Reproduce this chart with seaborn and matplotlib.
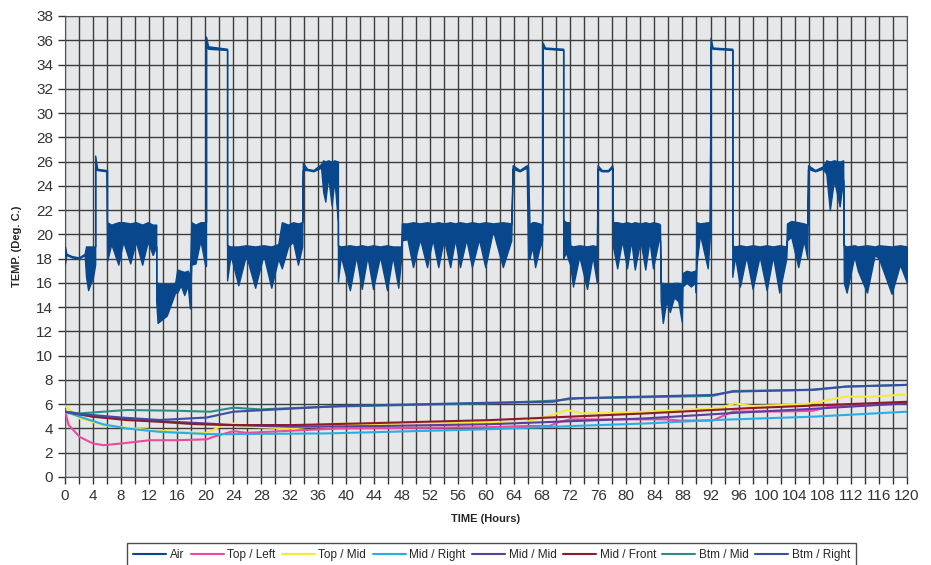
import numpy as np
import pandas as pd
import seaborn as sns
import matplotlib.pyplot as plt
from matplotlib.ticker import MultipleLocator

# Air temperature: logged trace shown as an envelope (upper / lower value) over time
air_t = [0.0, 0.2, 1.0, 2.0, 2.8, 3.0, 3.3, 4.0, 4.3,
         4.3, 4.6, 5.9, 6.0,
         6.0, 6.6, 7.6, 8.3, 9.3, 10.1, 11.0, 11.8, 12.5, 13.0,
         13.0, 13.2, 14.5, 15.7, 16.0, 16.5, 17.0, 17.5, 17.8,
         18.0, 18.6, 19.3, 20.0, 20.1,
         20.1, 20.4, 23.1,
         23.1, 23.6, 24.7, 25.8, 27.1, 28.3, 29.4, 30.4,
         30.9, 31.8, 32.5, 33.2, 33.8,
         33.9, 34.5, 35.4, 36.5, 36.8, 37.1, 37.5, 38.0, 38.4, 38.9,
         38.9, 39.3, 40.6, 41.5, 42.3, 43.1, 43.9, 44.9, 45.9, 46.7, 47.5, 47.9,
         48.0, 48.8, 49.6, 50.6, 51.6, 52.4, 53.2, 54.0, 54.9, 55.6, 56.3, 57.2,
         58.0, 59.0, 59.9, 61.0, 62.4, 63.6,
         63.8, 64.8, 65.8, 66.0,
         66.2, 66.6, 67.0, 67.6, 68.0,
         68.1, 68.4, 71.0,
         71.0, 71.4, 71.8, 72.0, 72.4, 73.3, 74.4, 75.2, 75.8,
         75.9, 76.5, 77.4, 78.0,
         78.1, 78.7, 79.4, 80.1, 80.7, 81.2, 82.0, 82.7, 83.3, 83.8, 84.6, 84.8,
         84.9, 85.2, 85.7, 86.2, 86.8, 87.4, 87.9,
         88.0, 88.6, 89.2, 89.8, 89.9,
         90.0, 90.5, 91.6, 91.9,
         92.0, 92.3, 95.1,
         95.1, 95.5, 96.2, 97.1, 98.0, 99.0, 100.0, 100.9, 101.8, 102.8,
         102.9, 103.5, 104.5, 105.3, 105.8,
         105.9, 106.9, 108.0, 108.5, 109.0, 109.6, 110.4, 110.9,
         111.0, 111.4, 112.5, 113.0, 114.3, 115.4, 116.0, 117.8, 119.0, 120.0]
air_hi = [19.0, 18.4, 18.2, 18.1, 18.4, 19.0, 19.0, 19.0, 19.0,
          26.5, 25.4, 25.3, 25.3,
          21.0, 20.8, 21.0, 21.0, 20.9, 21.0, 20.8, 21.0, 20.8, 20.8,
          16.1, 16.0, 15.9, 16.0, 17.1, 17.0, 16.9, 17.0, 16.6,
          21.0, 20.8, 21.0, 21.0, 21.0,
          36.3, 35.5, 35.3,
          19.1, 19.0, 19.0, 19.1, 19.0, 19.1, 19.0, 19.2,
          21.0, 20.8, 21.0, 20.9, 21.0,
          25.9, 25.4, 25.3, 25.8, 26.1, 26.0, 26.1, 26.0, 26.1, 26.0,
          19.1, 19.0, 19.1, 19.0, 19.1, 19.0, 19.1, 19.0, 19.1, 19.0, 19.0, 19.0,
          20.9, 20.9, 21.0, 20.9, 21.0, 20.9, 21.0, 20.9, 21.0, 20.9, 21.0, 20.9,
          21.0, 20.9, 21.0, 20.9, 21.0, 20.9,
          25.7, 25.3, 25.7, 25.6,
          20.8, 21.0, 21.0, 20.9, 20.8,
          35.8, 35.4, 35.3,
          21.2, 21.0, 21.0, 19.1, 19.0, 19.1, 19.0, 19.1, 19.0,
          25.7, 25.3, 25.3, 25.7,
          21.0, 21.0, 20.9, 21.0, 20.9, 21.0, 20.9, 21.0, 20.9, 21.0, 20.9, 20.8,
          16.0, 16.0, 15.9, 15.9, 16.0, 16.0, 15.8,
          16.8, 17.0, 16.9, 17.0, 16.5,
          21.0, 20.9, 21.0, 20.9,
          36.2, 35.4, 35.3,
          19.1, 19.0, 19.1, 19.0, 19.1, 19.0, 19.1, 19.0, 19.1, 19.0,
          20.9, 21.1, 21.0, 20.9, 20.8,
          25.7, 25.3, 25.6, 26.1, 26.0, 26.1, 26.0, 26.1,
          19.1, 19.0, 19.1, 19.0, 19.1, 19.0, 19.1, 19.0, 19.1, 19.0]
air_lo = [17.6, 18.3, 18.1, 18.0, 18.3, 16.5, 15.4, 16.5, 17.5,
          25.5, 25.3, 25.2, 17.8,
          17.8, 19.2, 17.5, 19.4, 17.6, 19.4, 17.5, 19.4, 18.3, 19.0,
          14.5, 12.7, 13.3, 15.2, 15.2, 15.8, 15.0, 15.8, 13.9,
          17.5, 17.6, 19.5, 17.4, 17.4,
          35.5, 35.3, 35.2,
          16.2, 18.3, 15.8, 18.3, 15.6, 18.3, 15.6, 18.0,
          17.2, 19.0, 19.4, 17.5, 19.0,
          25.3, 25.3, 25.2, 25.5, 23.5, 22.7, 24.8, 22.4, 24.5, 21.0,
          16.1, 18.2, 15.4, 18.2, 15.5, 18.2, 15.5, 18.2, 15.4, 18.2, 15.6, 18.0,
          19.5, 19.6, 17.3, 19.6, 17.3, 19.6, 17.3, 19.6, 17.3, 19.6, 17.3, 19.6,
          17.3, 19.6, 17.3, 20.3, 17.3, 19.5,
          25.4, 25.2, 25.5, 18.0,
          18.0, 19.0, 17.3, 18.8, 19.5,
          35.4, 35.3, 35.2,
          18.0, 18.5, 17.8, 17.5, 15.7, 18.2, 15.5, 18.2, 16.0,
          25.4, 25.2, 25.2, 25.5,
          19.0, 17.2, 19.5, 17.2, 19.5, 17.1, 19.5, 17.1, 19.5, 17.2, 19.5, 19.5,
          14.5, 12.7, 14.5, 13.6, 14.8, 14.5, 12.8,
          15.7, 16.0, 15.7, 16.0, 15.2,
          17.5, 20.0, 17.2, 19.8,
          35.4, 35.3, 35.2,
          16.5, 18.2, 15.7, 18.2, 15.5, 18.2, 15.4, 18.2, 15.2, 18.0,
          19.5, 19.8, 17.3, 19.5, 18.0,
          25.4, 25.2, 25.4, 25.0, 22.0, 24.5, 22.3, 24.5,
          16.0, 15.2, 18.2, 17.0, 15.2, 18.3, 18.0, 15.1, 17.5, 16.0]

# product probe temperatures
top_left_t = [0, 0.5, 2.1, 4.0, 5.5, 8.0, 12.1, 15.9, 20.2, 21.1, 24.0, 25.9, 39.2, 60.0,
              66.0, 69.0, 70.5, 72.0, 80.0, 85.6, 87.6, 92.3, 95.2, 101.8, 106.5, 109.0, 120.0]
top_left = [5.5, 4.3, 3.3, 2.76, 2.62, 2.76, 3.03, 3.03, 3.1, 3.3, 3.78, 3.64, 4.0, 4.1,
            4.2, 4.2, 4.55, 4.75, 4.75, 4.75, 4.65, 4.65, 5.4, 5.4, 5.45, 5.8, 6.1]
top_mid_t = [0, 2.1, 5.5, 11.2, 15.9, 20.2, 21.1, 22.6, 24.0, 25.9, 32.5, 38.7, 42.0, 60.6,
             65.2, 68.6, 71.6, 73.7, 78.5, 82.8, 89.5, 93.3, 95.4, 98.0, 105.6, 111.3, 115.1, 120.0]
top_mid = [5.85, 4.83, 4.28, 3.92, 3.72, 3.64, 3.86, 4.33, 4.41, 4.14, 4.0, 4.41, 4.35, 4.52,
           4.47, 4.97, 5.52, 5.24, 5.3, 5.38, 5.57, 5.66, 6.07, 5.85, 6.0, 6.62, 6.62, 6.81]
mid_right_t = [0, 2.1, 5.5, 8.8, 13.5, 20.7, 23.0, 37.3, 60.6, 73.3, 82.8, 92.3, 106.6, 120.0]
mid_right = [5.38, 4.97, 4.33, 4.0, 3.72, 3.53, 3.53, 3.59, 3.94, 4.22, 4.41, 4.69, 4.97, 5.38]
mid_mid_t = [0, 4.0, 8.8, 13.5, 20.2, 24.0, 32.5, 45.0, 60.6, 82.8, 96.0, 106.0, 120.0]
mid_mid = [5.38, 4.97, 4.83, 4.6, 4.41, 4.28, 4.14, 4.2, 4.35, 4.83, 5.3, 5.6, 6.07]
mid_front_t = [0, 4.0, 8.8, 13.5, 18.3, 23.0, 32.5, 42.0, 60.6, 82.8, 97.0, 120.0]
mid_front = [5.38, 4.97, 4.69, 4.55, 4.36, 4.28, 4.28, 4.41, 4.69, 5.24, 5.66, 6.2]
btm_mid_t = [0, 2.1, 8.8, 15.9, 20.7, 24.0, 27.8, 37.3, 60.6, 69.5, 73.3, 92.3, 95.2,
             106.6, 111.3, 120.0]
btm_mid = [5.38, 5.24, 5.52, 5.46, 5.38, 5.71, 5.57, 5.79, 6.07, 6.29, 6.48, 6.68, 7.09,
           7.17, 7.45, 7.59]
btm_right_t = [0, 2.1, 8.0, 13.5, 20.2, 24.0, 30.2, 39.2, 60.6, 69.5, 71.9, 92.3, 95.2,
               106.6, 111.3, 120.0]
btm_right = [5.38, 5.2, 4.9, 4.7, 4.9, 5.38, 5.57, 5.85, 6.12, 6.2, 6.48, 6.76, 7.03,
             7.2, 7.45, 7.59]

probes = [
    ('Top / Left', top_left_t, top_left, '#ec4a9c'),
    ('Top / Mid', top_mid_t, top_mid, '#f2ea3c'),
    ('Mid / Right', mid_right_t, mid_right, '#28aee6'),
    ('Mid / Mid', mid_mid_t, mid_mid, '#5b3f9e'),
    ('Mid / Front', mid_front_t, mid_front, '#8c1c2c'),
    ('Btm / Mid', btm_mid_t, btm_mid, '#2e8c84'),
    ('Btm / Right', btm_right_t, btm_right, '#3c4ea4'),
]
air_color = '#08478c'

sns.set_style('ticks')
plt.rcParams['font.family'] = ['Liberation Sans', 'DejaVu Sans']

fig = plt.figure(figsize=(9.31, 5.65), dpi=100)
ax = fig.add_axes([0.0698, 0.1558, 0.9044, 0.8159])
ax.set_facecolor('#e6e7e9')

ax.fill_between(air_t, air_lo, air_hi, color=air_color, edgecolor=air_color, linewidth=1.0, zorder=3)
ax.plot([], [], color=air_color, lw=1.5, label='Air')

for name, t, v, c in probes:
    df = pd.DataFrame({'t': t, 'v': v})
    sns.lineplot(data=df, x='t', y='v', color=c, lw=1.5, label=name, ax=ax, zorder=4)

ax.set_xlim(0, 120)
ax.set_ylim(0, 38)
ax.xaxis.set_major_locator(MultipleLocator(4))
ax.xaxis.set_minor_locator(MultipleLocator(2))
ax.yaxis.set_major_locator(MultipleLocator(2))
ax.grid(True, which='both', color='#3c3c3c', linewidth=1.0, zorder=1)
ax.set_axisbelow(True)
ax.tick_params(axis='both', which='both', direction='out', length=5, width=1,
               color='#333333', labelsize=11, labelcolor='#333333')
for s in ax.spines.values():
    s.set_color('#555555')

ax.set_xlabel('TIME (Hours)', fontsize=8, fontweight='bold', labelpad=8)
ax.set_ylabel('TEMP. (Deg. C.)', fontsize=8, fontweight='bold', labelpad=10)

leg = ax.legend(loc='upper center', bbox_to_anchor=(0.528, 0.039), bbox_transform=fig.transFigure,
                ncol=8, fontsize=8.5, frameon=True, fancybox=False, handlelength=2.8,
                columnspacing=0.55, handletextpad=0.3, borderpad=0.5, borderaxespad=0)
leg.get_frame().set_edgecolor('#222222')
leg.get_frame().set_linewidth(1.0)

plt.savefig('out.png', dpi=100)
